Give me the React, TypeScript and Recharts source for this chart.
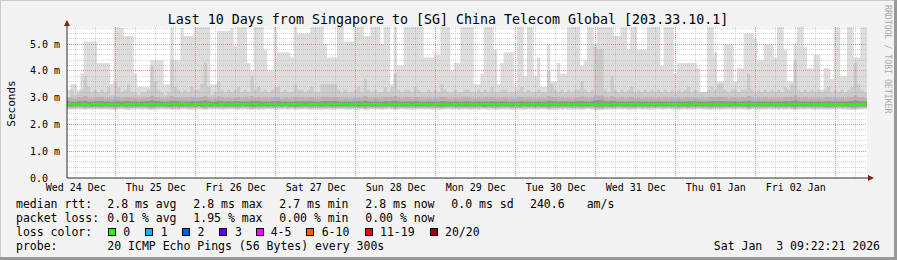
import { ComposedChart, Area, Line, XAxis, YAxis, CartesianGrid, ReferenceLine } from 'recharts'

const MONO = '"DejaVu Sans Mono", monospace'

// one sample per hour, x = hours since Wed 24 Dec 09:22:21
const dayLabels = ['Wed 24 Dec', 'Thu 25 Dec', 'Fri 26 Dec', 'Sat 27 Dec', 'Sun 28 Dec', 'Mon 29 Dec', 'Tue 30 Dec', 'Wed 31 Dec', 'Thu 01 Jan', 'Fri 02 Jan']
const yTicks = [0, 1, 2, 3, 4, 5]
const yTickLabels = ['0.0\u00a0\u00a0', '1.0 m', '2.0 m', '3.0 m', '4.0 m', '5.0 m']

const lossLabels = ['0', '1', '2', '3', '4-5', '6-10', '11-19', '20/20']
const lossColors = ['#26ff00', '#00b8ff', '#0059ff', '#5e00ff', '#ff00ff', '#ff5e00', '#ff0000', '#a10000']

// values in ms, 6 = above the top of the graph
const pingMax = [
  3.3, 3.5, 3.5, 3.3, 3.9, 5.1, 5.1, 5.1, 5.1, 4.3,
  4.3, 4.3, 4.3, 3.5, 6, 6, 5.6, 5.3, 5.3, 5.3,
  3.9, 3.4, 3.4, 3.4, 3.4, 4.4, 4.4, 4.4, 4.4, 3.5,
  3.5, 6, 4.4, 4.4, 5.6, 5.3, 5.3, 5.3, 6, 6,
  6, 6, 6, 3.5, 3.5, 5.5, 5.5, 5.5, 5.5, 5.6,
  4.9, 6, 6, 6, 4.3, 4.0, 6, 6, 6, 4.8,
  4.0, 4.0, 6, 4.7, 4.7, 4.7, 4.7, 4.5, 6, 5.4,
  5.4, 5.4, 5.4, 6, 6, 6, 6, 5.0, 4.5, 4.5,
  4.5, 6, 6, 5.1, 5.1, 5.1, 6, 6, 6, 5.3,
  5.3, 6, 6, 6, 5.0, 6, 6, 3.5, 6, 4.2,
  4.2, 6, 6, 6, 6, 6, 6, 4.5, 4.5, 4.5,
  4.6, 4.6, 6, 6, 6, 4.0, 4.3, 4.3, 6, 6,
  6, 6, 3.5, 3.5, 3.9, 6, 6, 6, 4.8, 3.5,
  4.3, 4.7, 4.7, 4.7, 3.4, 6, 6, 3.8, 6, 6,
  3.8, 4.5, 3.4, 3.4, 5.0, 3.6, 3.6, 4.3, 3.9, 3.9,
  6, 6, 6, 6, 4.2, 4.4, 6, 6, 5.0, 6,
  6, 6, 6, 6, 5.3, 5.3, 6, 6, 4.8, 6,
  6, 4.8, 4.8, 4.8, 6, 6, 6, 6, 4.2, 6,
  6, 6, 3.9, 4.3, 4.3, 4.3, 4.3, 4.3, 4.3, 4.1,
  3.2, 3.2, 6, 6, 4.7, 3.6, 3.6, 5.0, 5.0, 5.0,
  3.6, 4.1, 4.1, 5.4, 5.4, 5.4, 5.2, 4.4, 4.4, 5.0,
  5.0, 5.0, 4.5, 6, 6, 4.8, 3.6, 3.6, 5.0, 6,
  6, 4.9, 4.1, 4.1, 4.6, 4.6, 3.3, 4.1, 4.1, 3.7,
  6, 6, 3.8, 3.8, 6, 6, 4.5, 4.5, 6, 6,
]

const pingHigher = [
  3.0, 3.3, 3.1, 3.2, 3.3, 3.8, 3.4, 3.2, 3.3, 3.2,
  3.3, 3.2, 3.4, 3.1, 3.6, 3.4, 3.2, 3.3, 3.5, 3.2,
  3.2, 3.1, 3.2, 3.2, 3.3, 4.2, 3.6, 3.3, 3.2, 3.1,
  3.2, 4.4, 3.4, 3.3, 3.2, 3.3, 3.2, 3.4, 3.3, 3.3,
  3.5, 4.3, 3.4, 3.1, 3.2, 3.6, 3.3, 3.2, 3.3, 3.2,
  3.3, 3.4, 3.2, 3.3, 3.2, 3.8, 3.3, 3.4, 3.2, 3.3,
  3.2, 3.3, 3.4, 3.4, 3.2, 3.3, 3.2, 3.2, 3.5, 3.3,
  3.3, 3.2, 3.3, 3.4, 3.2, 3.2, 3.5, 3.5, 3.5, 3.5,
  3.5, 3.3, 3.2, 3.3, 3.2, 3.2, 3.3, 3.4, 3.2, 3.7,
  3.3, 3.2, 3.3, 3.2, 3.2, 3.4, 3.2, 3.4, 3.9, 3.3,
  3.2, 3.3, 3.3, 3.2, 3.4, 3.3, 3.2, 3.2, 3.3, 3.2,
  3.3, 3.2, 3.5, 3.3, 3.2, 3.2, 3.3, 3.2, 3.2, 3.3,
  3.3, 3.2, 3.2, 3.3, 3.2, 3.3, 3.2, 3.4, 3.2, 3.2,
  3.3, 3.3, 3.2, 3.2, 3.2, 3.3, 3.4, 3.2, 3.3, 3.2,
  3.2, 3.3, 3.2, 3.2, 4.0, 3.5, 3.3, 3.2, 3.3, 3.2,
  3.3, 3.2, 3.3, 3.3, 3.6, 3.3, 3.2, 3.3, 4.9, 4.8,
  4.8, 3.3, 3.2, 3.8, 3.3, 3.2, 3.3, 3.2, 3.3, 3.4,
  3.2, 3.3, 3.2, 3.3, 3.2, 3.3, 3.2, 3.3, 3.2, 3.3,
  3.2, 3.3, 3.2, 3.3, 3.2, 3.3, 3.4, 3.2, 3.3, 3.2,
  3.2, 3.2, 3.3, 3.4, 3.3, 3.5, 3.5, 3.3, 3.2, 3.3,
  3.3, 3.2, 3.3, 3.3, 3.9, 3.3, 3.2, 3.3, 3.2, 3.3,
  3.2, 3.3, 3.2, 3.3, 3.2, 3.4, 3.3, 3.5, 4.4, 3.3,
  3.2, 3.3, 3.2, 3.3, 3.2, 3.3, 3.2, 3.3, 3.4, 3.2,
  3.3, 3.2, 3.3, 3.2, 3.3, 3.4, 4.3, 3.5, 3.3, 3.2,
]

const pingHigh = [
  3.00, 2.98, 2.96, 3.02, 3.00, 3.05, 2.98, 2.97, 3.01, 2.99,
  3.02, 2.97, 3.00, 2.96, 3.04, 3.00, 2.98, 3.01, 3.03, 2.98,
  2.99, 2.96, 2.98, 3.00, 3.02, 3.08, 3.03, 2.99, 2.97, 2.96,
  2.98, 3.06, 3.01, 2.99, 2.98, 3.00, 2.97, 3.02, 3.00, 2.99,
  3.03, 3.06, 3.00, 2.96, 2.98, 3.04, 3.00, 2.98, 3.01, 2.97,
  3.00, 3.02, 2.98, 3.00, 2.97, 3.05, 2.99, 3.02, 2.98, 3.00,
  2.98, 3.00, 3.02, 3.01, 2.97, 3.00, 2.98, 2.97, 3.03, 3.00,
  3.00, 2.97, 3.00, 3.02, 2.98, 2.97, 3.03, 3.02, 3.03, 3.02,
  3.03, 3.00, 2.97, 3.00, 2.98, 2.97, 3.00, 3.02, 2.98, 3.05,
  3.00, 2.97, 3.00, 2.98, 2.97, 3.02, 2.98, 3.02, 3.06, 3.00,
  2.98, 3.00, 3.00, 2.97, 3.02, 3.00, 2.97, 2.98, 3.00, 2.97,
  3.00, 2.98, 3.03, 3.00, 2.97, 2.98, 3.00, 2.97, 2.98, 3.00,
  3.00, 2.97, 2.98, 3.00, 2.97, 3.00, 2.98, 3.02, 2.97, 2.98,
  3.00, 3.00, 2.97, 2.98, 2.97, 3.00, 3.02, 2.97, 3.00, 2.98,
  2.97, 3.00, 2.98, 2.97, 3.06, 3.03, 3.00, 2.97, 3.00, 2.98,
  3.00, 2.97, 3.00, 3.00, 3.04, 3.00, 2.98, 3.00, 3.10, 3.08,
  3.08, 3.00, 2.97, 3.05, 3.00, 2.98, 3.00, 2.97, 3.00, 3.02,
  2.98, 3.00, 2.97, 3.00, 2.98, 3.00, 2.97, 3.00, 2.98, 3.00,
  2.97, 3.00, 2.98, 3.00, 2.97, 3.00, 3.02, 2.98, 3.00, 2.97,
  2.98, 2.97, 3.00, 3.02, 3.00, 3.03, 3.03, 3.00, 2.97, 3.00,
  3.00, 2.98, 3.00, 3.00, 3.06, 3.00, 2.97, 3.00, 2.98, 3.00,
  2.97, 3.00, 2.98, 3.00, 2.97, 3.02, 3.00, 3.03, 3.08, 3.00,
  2.98, 3.00, 2.97, 3.00, 2.98, 3.00, 2.97, 3.00, 3.02, 2.98,
  3.00, 2.98, 3.00, 2.97, 3.00, 3.02, 3.08, 3.03, 3.00, 2.98,
]

const pingHighMid = [
  2.87, 2.86, 2.85, 2.88, 2.87, 2.89, 2.86, 2.86, 2.88, 2.87,
  2.88, 2.86, 2.87, 2.85, 2.89, 2.87, 2.86, 2.88, 2.88, 2.86,
  2.87, 2.85, 2.86, 2.87, 2.88, 2.90, 2.88, 2.87, 2.86, 2.85,
  2.86, 2.89, 2.88, 2.87, 2.86, 2.87, 2.86, 2.88, 2.87, 2.87,
  2.88, 2.90, 2.87, 2.85, 2.86, 2.89, 2.87, 2.86, 2.88, 2.86,
  2.87, 2.88, 2.86, 2.87, 2.86, 2.89, 2.87, 2.88, 2.86, 2.87,
  2.86, 2.87, 2.88, 2.88, 2.86, 2.87, 2.86, 2.86, 2.88, 2.87,
  2.87, 2.86, 2.87, 2.88, 2.86, 2.86, 2.88, 2.88, 2.88, 2.88,
  2.88, 2.87, 2.86, 2.87, 2.86, 2.86, 2.87, 2.88, 2.86, 2.89,
  2.87, 2.86, 2.87, 2.86, 2.86, 2.88, 2.86, 2.88, 2.89, 2.87,
  2.86, 2.87, 2.87, 2.86, 2.88, 2.87, 2.86, 2.86, 2.87, 2.86,
  2.87, 2.86, 2.88, 2.87, 2.86, 2.86, 2.87, 2.86, 2.86, 2.87,
  2.87, 2.86, 2.86, 2.87, 2.86, 2.87, 2.86, 2.88, 2.86, 2.86,
  2.87, 2.87, 2.86, 2.86, 2.86, 2.87, 2.88, 2.86, 2.87, 2.86,
  2.86, 2.87, 2.86, 2.86, 2.89, 2.88, 2.87, 2.86, 2.87, 2.86,
  2.87, 2.86, 2.87, 2.87, 2.88, 2.87, 2.86, 2.87, 2.90, 2.90,
  2.90, 2.87, 2.86, 2.89, 2.87, 2.86, 2.87, 2.86, 2.87, 2.88,
  2.86, 2.87, 2.86, 2.87, 2.86, 2.87, 2.86, 2.87, 2.86, 2.87,
  2.86, 2.87, 2.86, 2.87, 2.86, 2.87, 2.88, 2.86, 2.87, 2.86,
  2.86, 2.86, 2.87, 2.88, 2.87, 2.88, 2.88, 2.87, 2.86, 2.87,
  2.87, 2.86, 2.87, 2.87, 2.89, 2.87, 2.86, 2.87, 2.86, 2.87,
  2.86, 2.87, 2.86, 2.87, 2.86, 2.88, 2.87, 2.88, 2.90, 2.87,
  2.86, 2.87, 2.86, 2.87, 2.86, 2.87, 2.86, 2.87, 2.88, 2.86,
  2.87, 2.86, 2.87, 2.86, 2.87, 2.88, 2.90, 2.88, 2.87, 2.86,
]

const medianRtt = [
  2.76, 2.75, 2.75, 2.74, 2.75, 2.75, 2.74, 2.75, 2.75, 2.75,
  2.75, 2.74, 2.75, 2.75, 2.75, 2.75, 2.74, 2.75, 2.75, 2.75,
  2.75, 2.75, 2.74, 2.75, 2.75, 2.75, 2.75, 2.75, 2.74, 2.75,
  2.75, 2.75, 2.75, 2.76, 2.78, 2.75, 2.75, 2.74, 2.75, 2.75,
  2.75, 2.75, 2.76, 2.75, 2.74, 2.74, 2.75, 2.75, 2.75, 2.75,
  2.75, 2.75, 2.74, 2.75, 2.75, 2.75, 2.75, 2.75, 2.74, 2.75,
  2.75, 2.75, 2.75, 2.75, 2.75, 2.74, 2.75, 2.75, 2.75, 2.75,
  2.75, 2.74, 2.75, 2.75, 2.75, 2.75, 2.75, 2.74, 2.75, 2.75,
  2.75, 2.75, 2.75, 2.75, 2.74, 2.75, 2.75, 2.75, 2.75, 2.75,
  2.75, 2.75, 2.76, 2.75, 2.75, 2.74, 2.75, 2.75, 2.75, 2.75,
  2.75, 2.75, 2.75, 2.74, 2.75, 2.75, 2.75, 2.75, 2.75, 2.74,
  2.75, 2.75, 2.75, 2.75, 2.75, 2.74, 2.75, 2.75, 2.75, 2.75,
  2.75, 2.75, 2.75, 2.74, 2.75, 2.75, 2.75, 2.75, 2.75, 2.75,
  2.74, 2.75, 2.75, 2.75, 2.75, 2.75, 2.74, 2.75, 2.75, 2.75,
  2.75, 2.74, 2.75, 2.75, 2.75, 2.75, 2.75, 2.75, 2.75, 2.74,
  2.75, 2.74, 2.75, 2.75, 2.75, 2.75, 2.75, 2.75, 2.75, 2.74,
  2.75, 2.75, 2.75, 2.75, 2.75, 2.74, 2.75, 2.75, 2.75, 2.75,
  2.75, 2.75, 2.74, 2.75, 2.75, 2.75, 2.75, 2.75, 2.74, 2.75,
  2.75, 2.75, 2.75, 2.75, 2.75, 2.75, 2.74, 2.75, 2.78, 2.75,
  2.75, 2.75, 2.75, 2.74, 2.75, 2.75, 2.74, 2.75, 2.75, 2.75,
  2.74, 2.75, 2.75, 2.75, 2.75, 2.75, 2.75, 2.75, 2.75, 2.75,
  2.75, 2.74, 2.75, 2.75, 2.75, 2.74, 2.75, 2.75, 2.75, 2.75,
  2.75, 2.75, 2.75, 2.74, 2.75, 2.74, 2.75, 2.75, 2.74, 2.75,
  2.74, 2.75, 2.75, 2.74, 2.75, 2.74, 2.74, 2.75, 2.75, 2.75,
]

const pingLowMid = [
  2.68, 2.67, 2.68, 2.67, 2.68, 2.66, 2.68, 2.67, 2.68, 2.68,
  2.67, 2.68, 2.67, 2.68, 2.66, 2.67, 2.68, 2.67, 2.68, 2.67,
  2.68, 2.67, 2.68, 2.68, 2.67, 2.66, 2.67, 2.68, 2.67, 2.68,
  2.67, 2.66, 2.68, 2.67, 2.67, 2.68, 2.67, 2.68, 2.67, 2.68,
  2.66, 2.67, 2.68, 2.67, 2.68, 2.67, 2.68, 2.67, 2.68, 2.67,
  2.68, 2.67, 2.68, 2.67, 2.68, 2.66, 2.67, 2.68, 2.67, 2.68,
  2.67, 2.68, 2.67, 2.68, 2.67, 2.68, 2.67, 2.68, 2.66, 2.67,
  2.68, 2.67, 2.68, 2.67, 2.68, 2.67, 2.66, 2.67, 2.68, 2.67,
  2.67, 2.68, 2.67, 2.68, 2.67, 2.68, 2.67, 2.66, 2.68, 2.67,
  2.68, 2.67, 2.68, 2.67, 2.68, 2.67, 2.68, 2.67, 2.66, 2.68,
  2.67, 2.68, 2.67, 2.68, 2.67, 2.68, 2.67, 2.68, 2.67, 2.68,
  2.68, 2.67, 2.66, 2.68, 2.67, 2.68, 2.67, 2.68, 2.67, 2.67,
  2.67, 2.68, 2.67, 2.68, 2.67, 2.66, 2.68, 2.67, 2.68, 2.67,
  2.68, 2.67, 2.68, 2.67, 2.68, 2.67, 2.67, 2.68, 2.67, 2.68,
  2.67, 2.68, 2.67, 2.68, 2.66, 2.67, 2.68, 2.67, 2.68, 2.67,
  2.68, 2.67, 2.68, 2.67, 2.67, 2.68, 2.67, 2.68, 2.66, 2.66,
  2.66, 2.68, 2.67, 2.66, 2.68, 2.67, 2.68, 2.67, 2.68, 2.67,
  2.67, 2.68, 2.67, 2.68, 2.67, 2.68, 2.67, 2.68, 2.67, 2.68,
  2.68, 2.67, 2.68, 2.67, 2.68, 2.67, 2.66, 2.68, 2.67, 2.68,
  2.67, 2.68, 2.67, 2.66, 2.68, 2.67, 2.67, 2.68, 2.67, 2.68,
  2.68, 2.67, 2.68, 2.67, 2.66, 2.68, 2.67, 2.68, 2.67, 2.68,
  2.67, 2.68, 2.67, 2.68, 2.67, 2.66, 2.68, 2.67, 2.66, 2.68,
  2.68, 2.67, 2.68, 2.67, 2.68, 2.67, 2.68, 2.67, 2.66, 2.67,
  2.67, 2.68, 2.67, 2.68, 2.67, 2.66, 2.66, 2.67, 2.68, 2.67,
]

const pingLow = [
  2.62, 2.61, 2.62, 2.63, 2.62, 2.61, 2.62, 2.62, 2.63, 2.62,
  2.61, 2.62, 2.62, 2.61, 2.60, 2.62, 2.63, 2.62, 2.61, 2.62,
  2.62, 2.63, 2.62, 2.62, 2.61, 2.60, 2.62, 2.62, 2.63, 2.62,
  2.62, 2.60, 2.62, 2.61, 2.62, 2.63, 2.62, 2.61, 2.62, 2.63,
  2.61, 2.60, 2.62, 2.62, 2.63, 2.62, 2.61, 2.62, 2.62, 2.63,
  2.62, 2.61, 2.62, 2.63, 2.62, 2.60, 2.62, 2.61, 2.62, 2.62,
  2.63, 2.62, 2.61, 2.62, 2.62, 2.63, 2.62, 2.62, 2.61, 2.62,
  2.62, 2.63, 2.62, 2.61, 2.62, 2.62, 2.61, 2.62, 2.62, 2.61,
  2.62, 2.62, 2.63, 2.62, 2.61, 2.62, 2.62, 2.61, 2.62, 2.60,
  2.62, 2.63, 2.62, 2.62, 2.61, 2.62, 2.63, 2.62, 2.60, 2.62,
  2.63, 2.62, 2.62, 2.61, 2.62, 2.62, 2.63, 2.62, 2.62, 2.61,
  2.62, 2.62, 2.61, 2.62, 2.63, 2.62, 2.62, 2.61, 2.62, 2.62,
  2.62, 2.61, 2.62, 2.62, 2.63, 2.62, 2.62, 2.62, 2.61, 2.62,
  2.63, 2.62, 2.62, 2.61, 2.62, 2.62, 2.61, 2.62, 2.63, 2.62,
  2.62, 2.62, 2.63, 2.62, 2.60, 2.61, 2.62, 2.62, 2.62, 2.63,
  2.62, 2.61, 2.62, 2.62, 2.61, 2.62, 2.63, 2.62, 2.60, 2.60,
  2.60, 2.62, 2.62, 2.61, 2.62, 2.63, 2.62, 2.62, 2.61, 2.62,
  2.62, 2.63, 2.62, 2.62, 2.61, 2.62, 2.62, 2.63, 2.62, 2.62,
  2.63, 2.62, 2.62, 2.61, 2.62, 2.62, 2.61, 2.62, 2.62, 2.63,
  2.62, 2.62, 2.61, 2.61, 2.62, 2.62, 2.61, 2.62, 2.63, 2.62,
  2.62, 2.63, 2.62, 2.62, 2.60, 2.62, 2.62, 2.61, 2.62, 2.62,
  2.63, 2.62, 2.62, 2.61, 2.62, 2.61, 2.62, 2.61, 2.60, 2.62,
  2.62, 2.62, 2.63, 2.62, 2.61, 2.62, 2.62, 2.62, 2.61, 2.62,
  2.62, 2.63, 2.62, 2.62, 2.61, 2.60, 2.60, 2.62, 2.62, 2.63,
]

const pingMin = [
  2.56, 2.55, 2.56, 2.57, 2.55, 2.54, 2.56, 2.55, 2.57, 2.56,
  2.55, 2.56, 2.55, 2.54, 2.53, 2.56, 2.57, 2.55, 2.54, 2.56,
  2.56, 2.57, 2.55, 2.56, 2.54, 2.53, 2.55, 2.56, 2.57, 2.55,
  2.56, 2.53, 2.55, 2.54, 2.56, 2.57, 2.55, 2.54, 2.56, 2.57,
  2.54, 2.53, 2.56, 2.55, 2.57, 2.56, 2.54, 2.55, 2.56, 2.57,
  2.55, 2.54, 2.56, 2.57, 2.55, 2.53, 2.56, 2.54, 2.55, 2.56,
  2.57, 2.56, 2.54, 2.55, 2.56, 2.57, 2.55, 2.56, 2.54, 2.55,
  2.56, 2.57, 2.55, 2.54, 2.56, 2.55, 2.53, 2.55, 2.56, 2.54,
  2.55, 2.56, 2.57, 2.55, 2.54, 2.56, 2.55, 2.54, 2.56, 2.53,
  2.56, 2.57, 2.55, 2.56, 2.54, 2.55, 2.57, 2.56, 2.53, 2.55,
  2.57, 2.55, 2.56, 2.54, 2.55, 2.56, 2.57, 2.55, 2.56, 2.54,
  2.56, 2.55, 2.54, 2.56, 2.57, 2.55, 2.56, 2.54, 2.55, 2.56,
  2.55, 2.54, 2.56, 2.55, 2.57, 2.56, 2.55, 2.56, 2.54, 2.55,
  2.57, 2.55, 2.56, 2.54, 2.55, 2.56, 2.54, 2.55, 2.57, 2.56,
  2.56, 2.55, 2.57, 2.56, 2.53, 2.54, 2.55, 2.56, 2.55, 2.57,
  2.55, 2.54, 2.56, 2.55, 2.54, 2.56, 2.57, 2.55, 2.53, 2.53,
  2.53, 2.55, 2.56, 2.54, 2.56, 2.57, 2.55, 2.56, 2.54, 2.55,
  2.56, 2.57, 2.55, 2.56, 2.54, 2.55, 2.56, 2.57, 2.55, 2.56,
  2.57, 2.55, 2.56, 2.54, 2.55, 2.56, 2.54, 2.55, 2.56, 2.57,
  2.56, 2.55, 2.54, 2.54, 2.56, 2.55, 2.54, 2.56, 2.57, 2.55,
  2.55, 2.57, 2.56, 2.55, 2.53, 2.56, 2.55, 2.54, 2.56, 2.55,
  2.57, 2.55, 2.56, 2.54, 2.55, 2.54, 2.56, 2.54, 2.53, 2.56,
  2.56, 2.55, 2.57, 2.56, 2.54, 2.55, 2.56, 2.55, 2.54, 2.56,
  2.55, 2.57, 2.56, 2.55, 2.54, 2.53, 2.53, 2.55, 2.56, 2.57,
]

const HOURS = 240
const Y_TOP = 5.64
// first midnight after the start time 09:22:21
const firstMidnight = 24 - (9 + 22 / 60 + 21 / 3600)
const labelTicks = dayLabels.map((_, i) => firstMidnight - 12 + 24 * i)

const rows = pingMax.map((_, i) => ({
  t: i,
  outer: [pingMin[i], pingMax[i]],
  band2: [pingLow[i], pingHigher[i]],
  band3: [pingLow[i], pingHigh[i]],
  band4: [pingLowMid[i], pingHighMid[i]],
  median: medianRtt[i],
}))
// closing row so the last hour step is drawn
rows.push({ ...rows[rows.length - 1], t: HOURS })

const majorX: number[] = []
const minorX: number[] = []
for (let h = firstMidnight - 12; h < HOURS; h += 6) {
  const fromMidnight = Math.round(h - firstMidnight)
  if (h <= 0) continue
  if (fromMidnight % 24 === 0) majorX.push(h)
  else minorX.push(h)
}
const majorY = [1, 2, 3, 4, 5]
const minorY: number[] = []
for (let i = 1; i * 0.2 < Y_TOP; i++) if (i % 5 !== 0) minorY.push(+(i * 0.2).toFixed(1))

const XTick = (p: any) => {
  const idx = labelTicks.indexOf(p.payload.value)
  return (
    <text x={p.x} y={p.y + 12.5} textAnchor="middle" fontFamily={MONO} fontSize={10} fill="#000">
      {dayLabels[idx >= 0 ? idx : p.index]}
    </text>
  )
}

const YTick = (p: any) => {
  const idx = yTicks.indexOf(p.payload.value)
  return (
    <text x={p.x - 7} y={p.y + 3.5} textAnchor="end" fontFamily={MONO} fontSize={10} fill="#000">
      {yTickLabels[idx >= 0 ? idx : p.index]}
    </text>
  )
}

const legendText = { fontFamily: MONO, fontSize: 11.5, fill: '#000', whiteSpace: 'pre' as const }

const lossBoxX = [108.5, 145.5, 182.5, 219.5, 256.5, 306.5, 365.5, 430.5]
const lossTextX = [123.3, 160.7, 197.5, 235, 270.7, 321.7, 380, 445]

export default function App() {
  return (
    <div style={{ position: 'absolute', left: 0, top: 0, width: 897, height: 260, background: '#f3f3f3', overflow: 'hidden' }}>
      <div style={{ position: 'absolute', left: 0, top: 0 }}>
        <ComposedChart width={897} height={260} data={rows} margin={{ top: 27, right: 30, bottom: 52, left: 0 }}>
          <CartesianGrid horizontal={false} vertical={false} fill="#ffffff" stroke="none" />
          <XAxis
            type="number"
            dataKey="t"
            domain={[0, HOURS]}
            ticks={labelTicks}
            interval={0}
            allowDataOverflow
            tickLine={false}
            tickSize={0}
            tickMargin={0}
            height={30}
            axisLine={{ stroke: '#2c2c2c' }}
            tick={XTick}
          />
          <YAxis
            type="number"
            domain={[0, Y_TOP]}
            ticks={yTicks}
            interval={0}
            allowDataOverflow
            tickLine={false}
            tickSize={0}
            tickMargin={0}
            width={67}
            axisLine={{ stroke: '#2c2c2c' }}
            tick={YTick}
          />
          <Area type="stepAfter" dataKey="outer" stroke="none" fill="#dddddd" fillOpacity={1} isAnimationActive={false} activeDot={false} />
          <Area type="stepAfter" dataKey="band2" stroke="none" fill="#cbcbcb" fillOpacity={1} isAnimationActive={false} activeDot={false} />
          <Area type="stepAfter" dataKey="band3" stroke="none" fill="#b4b4b4" fillOpacity={1} isAnimationActive={false} activeDot={false} />
          <Area type="stepAfter" dataKey="band4" stroke="none" fill="#929292" fillOpacity={1} isAnimationActive={false} activeDot={false} />
          {minorY.map((v) => (
            <ReferenceLine key={'my' + v} y={v} stroke="#8c8c8c" strokeOpacity={0.35} strokeDasharray="1 1" shapeRendering="crispEdges" />
          ))}
          {minorX.map((v) => (
            <ReferenceLine key={'mx' + v} x={v} stroke="#8c8c8c" strokeOpacity={0.35} strokeDasharray="1 1" shapeRendering="crispEdges" />
          ))}
          {majorY.map((v) => (
            <ReferenceLine key={'My' + v} y={v} stroke="#f08a8a" strokeOpacity={1} strokeDasharray="1 1" shapeRendering="crispEdges" />
          ))}
          {majorX.map((v) => (
            <ReferenceLine key={'Mx' + v} x={v} stroke="#f08a8a" strokeOpacity={1} strokeDasharray="1 1" shapeRendering="crispEdges" />
          ))}
          <Line type="stepAfter" dataKey="median" stroke="#26ff00" strokeWidth={2} dot={false} activeDot={false} isAnimationActive={false} />
        </ComposedChart>
      </div>
      <svg width={897} height={260} style={{ position: 'absolute', left: 0, top: 0, pointerEvents: 'none' }}>
        {/* frame */}
        <line x1={0} y1={0.5} x2={897} y2={0.5} stroke="#cbcbcb" />
        <line x1={0.5} y1={0} x2={0.5} y2={260} stroke="#cbcbcb" />
        <line x1={0} y1={258.5} x2={897} y2={258.5} stroke="#999999" strokeWidth={3} />
        <line x1={895.5} y1={0} x2={895.5} y2={260} stroke="#999999" strokeWidth={3} />

        <text x={448} y={23.5} textAnchor="middle" fontFamily={MONO} fontSize={13.3} fill="#000">
          Last 10 Days from Singapore to [SG] China Telecom Global [203.33.10.1]
        </text>
        <text x={15} y={103.5} transform="rotate(-90 15 103.5)" textAnchor="middle" fontFamily={MONO} fontSize={11} fill="#000">
          Seconds
        </text>
        <text x={885} y={5} transform="rotate(90 885 5)" fontFamily={MONO} fontSize={8.2} fill="#aaaaaa">
          RRDTOOL / TOBI OETIKER
        </text>

        {/* axis extensions and arrows */}
        <line x1={67} y1={27} x2={67} y2={24} stroke="#2c2c2c" />
        <polygon points="64,26 70,26 67,20" fill="#8b1a1a" />
        <line x1={867} y1={178} x2={869} y2={178} stroke="#2c2c2c" />
        <polygon points="868,175 868,181 874,178" fill="#8b1a1a" />

        {/* legend */}
        <g style={legendText}>
          <text x={16} y={207.5}>median rtt:</text>
          <text x={107.3} y={207.5}>2.8 ms avg</text>
          <text x={193.3} y={207.5}>2.8 ms max</text>
          <text x={279.3} y={207.5}>2.7 ms min</text>
          <text x={365.3} y={207.5}>2.8 ms now</text>
          <text x={451.3} y={207.5}>0.0 ms sd</text>
          <text x={530} y={207.5}>240.6</text>
          <text x={586.7} y={207.5}>am/s</text>

          <text x={16} y={221.5}>packet loss:</text>
          <text x={107.3} y={221.5}>0.01 % avg</text>
          <text x={193.3} y={221.5}>1.95 % max</text>
          <text x={279.3} y={221.5}>0.00 % min</text>
          <text x={365.3} y={221.5}>0.00 % now</text>

          <text x={16} y={235.5}>loss color:</text>
          {lossLabels.map((l, i) => (
            <text key={l} x={lossTextX[i]} y={235.5}>{l}</text>
          ))}

          <text x={16} y={249.5}>probe:</text>
          <text x={107.3} y={249.5}>20 ICMP Echo Pings (56 Bytes) every 300s</text>
          <text x={880} y={249.5} textAnchor="end" xmlSpace="preserve">Sat Jan  3 09:22:21 2026</text>
        </g>
        {lossColors.map((c, i) => (
          <rect key={c} x={lossBoxX[i]} y={228.5} width={7} height={7} fill={c} stroke="#000" strokeWidth={1} />
        ))}
      </svg>
    </div>
  )
}
